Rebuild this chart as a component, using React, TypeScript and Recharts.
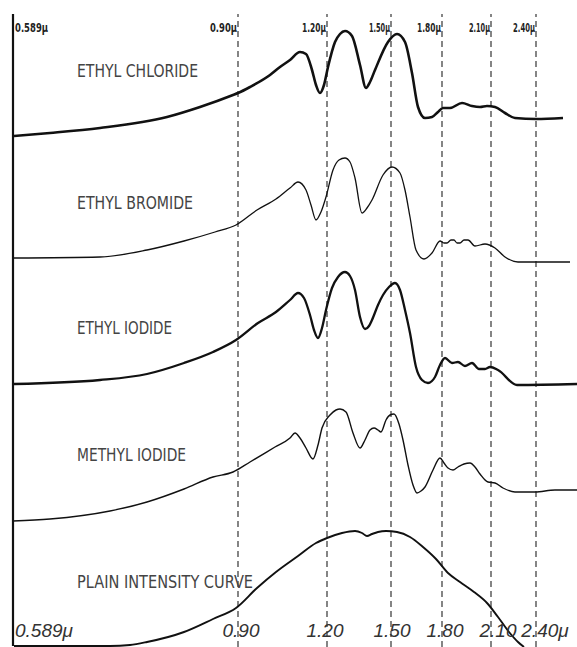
import React from 'react';
import { LineChart, Line, XAxis, YAxis, ReferenceLine, ReferenceDot } from 'recharts';

// page fills the window edge to edge
if (typeof document !== 'undefined') document.body.style.margin = '0';

// x = prism scale reading (0 at the sodium line), y = deflection (chart units)
const chlorideCurve = [
  [1, 511], [37, 514], [87, 519], [154, 530], [187, 540], [220, 552], [225, 554], [237, 560],
  [257, 572], [267, 580], [277, 587], [287, 595], [293, 593], [299, 577], [303, 562], [307, 554],
  [311, 562], [315, 580], [322, 605], [327, 613], [332, 616], [339, 611], [347, 582], [353, 559],
  [357, 565], [362, 577], [375, 605], [384, 613], [392, 605], [399, 574], [405, 540], [412, 529],
  [419, 530], [425, 535], [430, 539], [437, 539], [449, 544], [459, 541], [467, 540], [474, 541],
  [482, 540], [492, 534], [502, 529], [523, 528], [550, 529],
];

const bromideCurve = [
  [1, 389], [87, 390], [134, 397], [171, 406], [202, 415], [223, 422], [244, 437], [263, 448],
  [277, 459], [285, 465], [293, 457], [298, 442], [303, 427], [308, 435], [313, 450], [320, 477],
  [326, 487], [332, 489], [337, 485], [342, 469], [349, 434], [354, 439], [359, 447], [370, 472],
  [379, 480], [387, 474], [392, 457], [397, 430], [403, 397], [411, 388], [419, 394], [427, 406],
  [431, 404], [434, 404], [438, 407], [441, 407], [444, 404], [447, 404], [451, 407], [455, 407],
  [462, 401], [472, 403], [482, 399], [492, 390], [505, 385], [557, 385],
];

const ethylIodideCurve = [
  [1, 263], [87, 267], [134, 273], [171, 284], [200, 295], [223, 307], [245, 324], [263, 335],
  [277, 347], [285, 354], [291, 349], [297, 332], [301, 317], [305, 309], [309, 319], [313, 337],
  [319, 359], [325, 370], [332, 375], [337, 371], [342, 357], [347, 330], [352, 318], [356, 321],
  [359, 327], [365, 342], [370, 352], [376, 360], [382, 364], [387, 357], [392, 337], [397, 314],
  [403, 280], [409, 267], [415, 264], [422, 270], [427, 282], [432, 289], [439, 284], [445, 285],
  [452, 281], [459, 284], [466, 278], [472, 278], [477, 280], [485, 277], [504, 262], [564, 263],
];

const methylIodideCurve = [
  [0, 126], [37, 128], [97, 136], [134, 145], [171, 158], [200, 170], [220, 175], [237, 185],
  [262, 200], [277, 209], [282, 214], [287, 209], [293, 199], [300, 188], [305, 202], [309, 219],
  [317, 232], [323, 237], [327, 238], [333, 235], [340, 214], [347, 199], [352, 207], [357, 217],
  [361, 219], [365, 217], [368, 215], [373, 227], [377, 232], [381, 233], [386, 223], [390, 207],
  [395, 182], [400, 162], [404, 154], [408, 156], [412, 160], [420, 177], [427, 189], [431, 184],
  [435, 179], [440, 177], [445, 180], [451, 183], [457, 184], [462, 180], [467, 173], [475, 165],
  [482, 164], [490, 159], [502, 155], [522, 155], [542, 157], [564, 157],
];

const plainCurve = [
  [1, 1], [97, 1], [117, 2], [134, 5], [171, 15], [200, 28], [223, 39], [244, 59], [263, 75],
  [285, 91], [303, 104], [314, 109], [329, 114], [342, 116], [349, 114], [354, 111], [359, 113],
  [365, 115], [373, 116], [384, 115], [397, 110], [410, 100], [423, 88], [435, 74], [447, 65],
  [461, 55], [474, 44], [485, 30], [496, 15], [505, 5], [511, 0],
];

// wavelength marks on the scale
const markPositions = [0, 225, 314, 378, 429, 478, 523];
const topMarkLabels = ['0.589μ', '0.90μ', '1.20μ', '1.50μ', '1.80μ', '2.10μ', '2.40μ'];
const bottomMarkLabels = ['0.589μ', '0.90', '1.20', '1.50', '1.80', '2.10', '2.40μ'];

const curveNames = ['ETHYL CHLORIDE', 'ETHYL BROMIDE', 'ETHYL IODIDE', 'METHYL IODIDE', 'PLAIN INTENSITY CURVE'];

// layout / style (not data)
const W = 577;
const H = 647;
const X_DOMAIN = [-13, 564];
const Y_DOMAIN = [0, 647];
const LINE_TOP = 633;
const TOP_LABEL_Y = 615;
const BOTTOM_LABEL_Y = 10;
const curveWidths = [2.6, 1.3, 2.3, 1.4, 1.9];
const nameAnchors = [[64, 577], [64, 445], [64, 320], [64, 193], [64, 66]];
const nameLengths = [121, 116, 95, 109, 176];
const topLabelLengths = [33, 27, 24, 21, 24, 21, 22];
const bottomLabelShift = [2, 3, -2, 1, 3, 7, 9];

const curves = [chlorideCurve, bromideCurve, ethylIodideCurve, methylIodideCurve, plainCurve];
const seriesData = curves.map((c) => c.map(([d, v]) => ({ d, v })));

export default function App() {
  return (
    <div style={{ width: W, height: H, background: '#fff' }}>
      <LineChart width={W} height={H} margin={{ top: 0, right: 0, bottom: 0, left: 0 }}>
        <XAxis dataKey='d' type='number' domain={X_DOMAIN} allowDataOverflow hide />
        <YAxis type='number' dataKey='v' domain={Y_DOMAIN} allowDataOverflow hide />

        {markPositions.slice(1).map((p) => (
          <ReferenceLine
            key={p}
            segment={[{ x: p, y: 0 }, { x: p, y: LINE_TOP }]}
            stroke='#222'
            strokeWidth={1.1}
            strokeDasharray='6 4'
          />
        ))}
        <ReferenceLine segment={[{ x: 0, y: 1 }, { x: 0, y: LINE_TOP }]} stroke='#111' strokeWidth={2.2} />

        {seriesData.map((data, i) => (
          <Line
            key={curveNames[i]}
            data={data}
            dataKey='v'
            type='monotone'
            stroke='#111'
            strokeWidth={curveWidths[i]}
            dot={false}
            activeDot={false}
            isAnimationActive={false}
          />
        ))}

        {/* wavelength labels, top row */}
        {markPositions.map((p, i) => (
          <ReferenceDot
            key={'t' + p}
            x={p}
            y={TOP_LABEL_Y}
            r={0}
            shape={(s: any) => (
              <text
                x={i === 0 ? s.cx + 2 : s.cx - 1}
                y={s.cy}
                textAnchor={i === 0 ? 'start' : 'end'}
                fontFamily="'DejaVu Sans Condensed', 'DejaVu Sans', sans-serif"
                fontWeight='bold'
                fontSize={13}
                fill='#222'
                textLength={topLabelLengths[i]}
                lengthAdjust='spacingAndGlyphs'
              >
                {topMarkLabels[i]}
              </text>
            )}
          />
        ))}

        {/* wavelength labels, bottom row */}
        {markPositions.map((p, i) => (
          <ReferenceDot
            key={'b' + p}
            x={p}
            y={BOTTOM_LABEL_Y}
            r={0}
            shape={(s: any) => (
              <text
                x={s.cx + bottomLabelShift[i]}
                y={s.cy}
                textAnchor={i === 0 ? 'start' : 'middle'}
                fontFamily="'Liberation Sans', sans-serif"
                fontStyle='italic'
                fontSize={19}
                fill='#333'
              >
                {bottomMarkLabels[i]}
              </text>
            )}
          />
        ))}

        {curveNames.map((name, i) => (
          <ReferenceDot
            key={name}
            x={nameAnchors[i][0]}
            y={nameAnchors[i][1]}
            r={0}
            shape={(p: any) => (
              <text
                x={p.cx}
                y={p.cy}
                dominantBaseline='central'
                fontFamily="'Liberation Sans Narrow', 'DejaVu Sans Condensed', sans-serif"
                fontSize={18}
                fill='#444'
                textLength={nameLengths[i]}
                lengthAdjust='spacingAndGlyphs'
              >
                {name}
              </text>
            )}
          />
        ))}
      </LineChart>
    </div>
  );
}
